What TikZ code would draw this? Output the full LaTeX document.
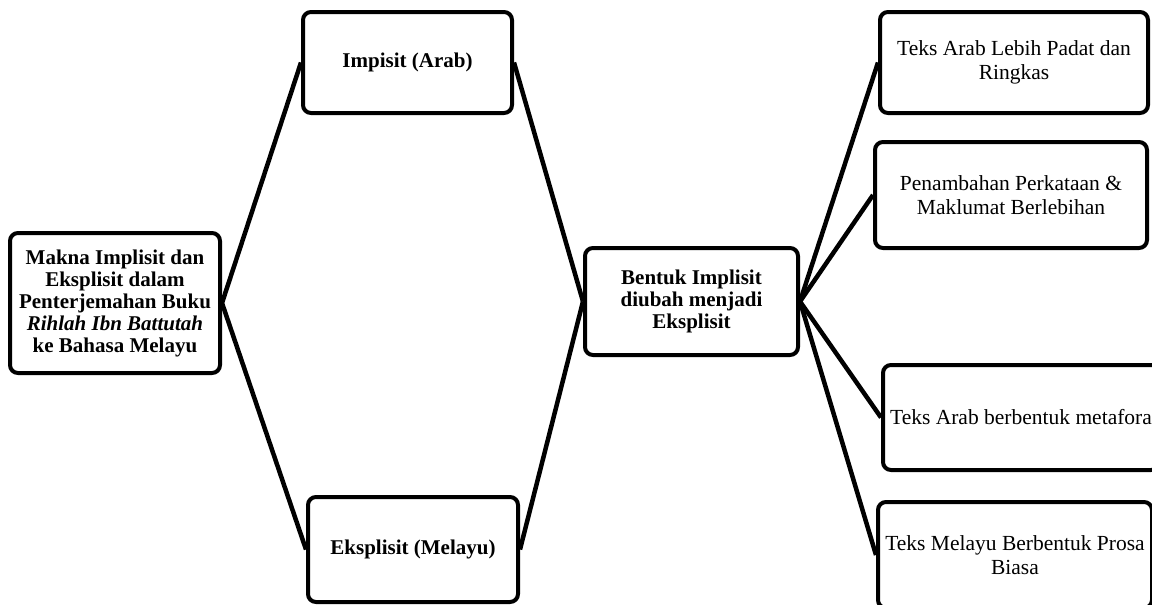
\documentclass[tikz,border=0pt]{standalone}
\usepackage{fontspec}
\setmainfont{Liberation Serif}
\usetikzlibrary{positioning}
\begin{document}
\begin{tikzpicture}[x=1pt,y=1pt,box/.style={draw=black,line width=4pt,rounded corners=8pt,align=center,font=\fontsize{21.5}{24}\selectfont,inner sep=4pt},bbox/.style={box,font=\fontsize{21}{22}\selectfont\bfseries},lnk/.style={line width=4.5pt}]
\clip (0,0) rectangle (1152,-605);
\node[bbox,minimum width=210pt,minimum height=140pt] (main) at (115,-303) {Makna Implisit dan\\Eksplisit dalam\\Penterjemahan Buku\\\textit{Rihlah Ibn Battutah}\\ke Bahasa Melayu};
\node[bbox,minimum width=209pt,minimum height=101pt] (imp) at (407.5,-62.5) {Impisit (Arab)};
\node[bbox,minimum width=210pt,minimum height=105pt] (eks) at (413,-549.5) {Eksplisit (Melayu)};
\node[bbox,minimum width=213pt,minimum height=107pt] (bentuk) at (691.5,-301.5) {Bentuk Implisit\\diubah menjadi\\Eksplisit};
\node[box,minimum width=268pt,minimum height=101pt] (padat) at (1014,-62.5) {Teks Arab Lebih Padat dan\\Ringkas};
\node[box,minimum width=272pt,minimum height=106pt] (tambah) at (1011,-195) {Penambahan Perkataan \&\\Maklumat Berlebihan};
\node[box,minimum width=276pt,minimum height=105pt] (metafora) at (1021,-417.5) {Teks Arab berbentuk metafora};
\node[box,minimum width=274pt,minimum height=106pt] (prosa) at (1015,-555) {Teks Melayu Berbentuk Prosa\\Biasa};
\draw[lnk] (main.east)--(imp.west);\draw[lnk] (main.east)--(eks.west);
\draw[lnk] (imp.east)--(bentuk.west);\draw[lnk] (eks.east)--(bentuk.west);
\draw[lnk] (bentuk.east)--(padat.west);\draw[lnk] (bentuk.east)--(tambah.west);
\draw[lnk] (bentuk.east)--(metafora.west);\draw[lnk] (bentuk.east)--(prosa.west);
\end{tikzpicture}
\end{document}
